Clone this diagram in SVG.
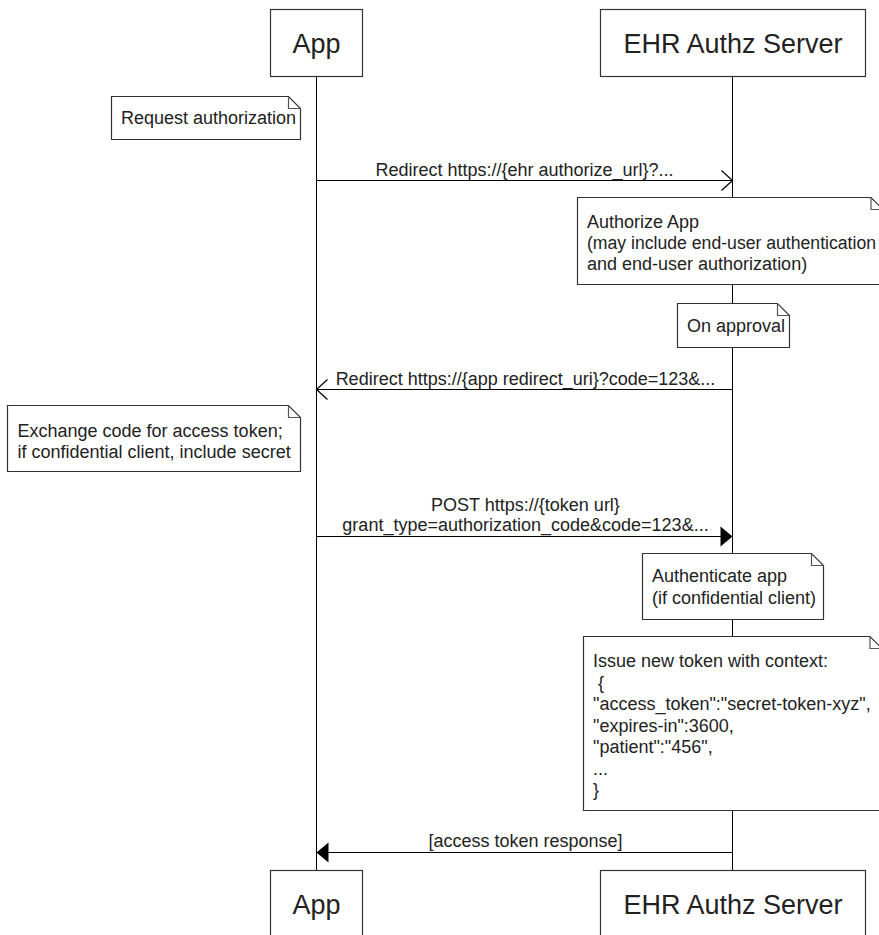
<svg xmlns="http://www.w3.org/2000/svg" width="879" height="935" viewBox="0 0 879 935">
<style>
  text { font-family: "Liberation Sans", Arial, sans-serif; fill: #222; }
  .p { font-size: 27px; text-anchor: middle; }
  .t { font-size: 18px; }
  .m { font-size: 18px; text-anchor: middle; }
  .box { fill: #fff; stroke: #333; stroke-width: 1.2; }
  .note { fill: #fff; stroke: #333; stroke-width: 1.2; }
  .fold { fill: none; stroke: #555; stroke-width: 1.2; }
  .life { stroke: #000; stroke-width: 1; }
  .msg { stroke: #000; stroke-width: 1; fill: none; }
  .open { marker-end: url(#openArrow); }
  .filled { marker-end: url(#filledArrow); }
</style>
<defs>
  <marker id="openArrow" viewBox="0 0 13 22" refX="12" refY="11" markerWidth="13" markerHeight="22" markerUnits="userSpaceOnUse" orient="auto" overflow="visible">
    <path d="M1,1 L12,11 L1,21" fill="none" stroke="#000" stroke-width="1.2"/>
  </marker>
  <marker id="filledArrow" viewBox="0 0 12 22" refX="12" refY="11" markerWidth="12" markerHeight="22" markerUnits="userSpaceOnUse" orient="auto" overflow="visible">
    <path d="M0,1 L12,11 L0,21 Z" fill="#000"/>
  </marker>
</defs>

<g id="lifelines">
  <line class="life" x1="316.5" y1="76.5" x2="316.5" y2="870.5"/>
  <line class="life" x1="732.5" y1="76.5" x2="732.5" y2="870.5"/>
</g>

<g id="connectors">
  <g id="msg1">
    <line class="msg open" x1="316.5" y1="180.5" x2="732.5" y2="180.5"/>
    <text class="m" x="524.5" y="175.5">Redirect https://{ehr authorize_url}?...</text>
  </g>
  <g id="msg2">
    <line class="msg open" x1="732.5" y1="389.5" x2="316.5" y2="389.5"/>
    <text class="m" x="525.5" y="384.5">Redirect https://{app redirect_uri}?code=123&amp;...</text>
  </g>
  <g id="msg3">
    <line class="msg filled" x1="316.5" y1="536.5" x2="732.5" y2="536.5"/>
    <text class="m" x="525.5" y="511">POST https://{token url}</text>
    <text class="m" x="525.5" y="530.5">grant_type=authorization_code&amp;code=123&amp;...</text>
  </g>
  <g id="msg4">
    <line class="msg filled" x1="732.5" y1="852.5" x2="316.5" y2="852.5"/>
    <text class="m" x="525.5" y="847">[access token response]</text>
  </g>
</g>

<g id="note-request">
  <path class="note" d="M111.5,96.5 H288.5 L300.5,108.5 V139.5 H111.5 Z"/>
  <path class="fold" d="M288.5,96.5 V108.5 H300.5"/>
  <text class="t" x="121" y="123.5">Request authorization</text>
</g>

<g id="note-authorize">
  <path class="note" d="M577.5,197.5 H871 L883,209.5 V284.5 H577.5 Z"/>
  <path class="fold" d="M871,197.5 V209.5 H883"/>
  <text class="t" x="587" y="228">Authorize App</text>
  <text class="t" x="587" y="249" textLength="289" lengthAdjust="spacingAndGlyphs">(may include end-user authentication</text>
  <text class="t" x="587" y="270">and end-user authorization)</text>
</g>

<g id="note-approval">
  <path class="note" d="M677.5,303.5 H777.5 L789.5,315.5 V347.5 H677.5 Z"/>
  <path class="fold" d="M777.5,303.5 V315.5 H789.5"/>
  <text class="t" x="687" y="331.5">On approval</text>
</g>

<g id="note-exchange">
  <path class="note" d="M7.5,405.5 H288.5 L300.5,417.5 V471.5 H7.5 Z"/>
  <path class="fold" d="M288.5,405.5 V417.5 H300.5"/>
  <text class="t" x="17.5" y="436.5">Exchange code for access token;</text>
  <text class="t" x="17.5" y="458">if confidential client, include secret</text>
</g>

<g id="note-authenticate">
  <path class="note" d="M642.5,553.5 H811.5 L823.5,565.5 V619.5 H642.5 Z"/>
  <path class="fold" d="M811.5,553.5 V565.5 H823.5"/>
  <text class="t" x="652" y="582">Authenticate app</text>
  <text class="t" x="652" y="603.5">(if confidential client)</text>
</g>

<g id="note-issue">
  <path class="note" d="M583.5,636.5 H870 L882,648.5 V810.5 H583.5 Z"/>
  <path class="fold" d="M870,636.5 V648.5 H882"/>
  <text class="t" x="593" y="667">Issue new token with context:</text>
  <text class="t" x="598" y="688.5">{</text>
  <text class="t" x="593" y="710">"access_token":"secret-token-xyz",</text>
  <text class="t" x="593" y="731.5">"expires-in":3600,</text>
  <text class="t" x="593" y="753">"patient":"456",</text>
  <text class="t" x="593" y="774.5">...</text>
  <text class="t" x="593" y="796">}</text>
</g>

<g id="app-top">
  <rect class="box" x="270.5" y="9.5" width="92" height="67"/>
  <text class="p" x="316.5" y="53">App</text>
</g>
<g id="ehr-top">
  <rect class="box" x="600.5" y="9.5" width="265" height="67"/>
  <text class="p" x="733" y="53">EHR Authz Server</text>
</g>
<g id="app-bottom">
  <rect class="box" x="270.5" y="870.5" width="92" height="67"/>
  <text class="p" x="316.5" y="914">App</text>
</g>
<g id="ehr-bottom">
  <rect class="box" x="600.5" y="870.5" width="265" height="67"/>
  <text class="p" x="733" y="914">EHR Authz Server</text>
</g>
</svg>
